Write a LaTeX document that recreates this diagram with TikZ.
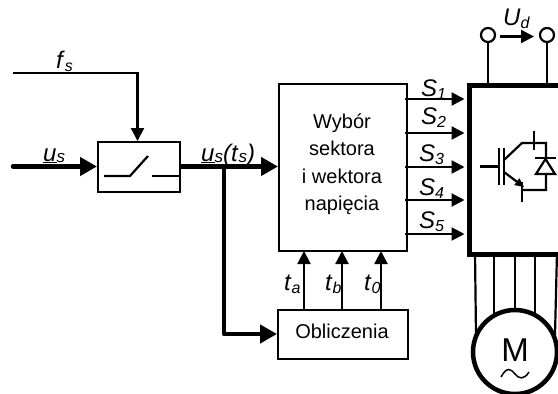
\documentclass[tikz,border=0pt]{standalone}
\usepackage{fontspec}
\setmainfont{Liberation Sans}
\usetikzlibrary{arrows.meta}
\newcommand{\lowsub}[2]{\textit{#1}\raisebox{-3pt}{\fontsize{16}{16}\selectfont\textit{#2}}}
\tikzset{
  x=1pt,y=-1pt,
  thinw/.style={line width=2.2pt},
  bx/.style={draw,line width=2.2pt,fill=white,inner sep=0pt,anchor=north west},
  sarrow/.style={line width=2.2pt,-{Triangle[length=13pt,width=13pt]}},
  lbl/.style={inner sep=0pt,font=\fontsize{20}{20}\selectfont},
  big/.style={font=\fontsize{24}{24}\selectfont},
  term/.style={circle,draw,line width=2.2pt,fill=white,minimum size=14pt,inner sep=0pt}
}
\begin{document}
\begin{tikzpicture}
\useasboundingbox (0,0) rectangle (558,394);
\clip (0,0) rectangle (558,394);
% boxes
\node[bx,minimum width=82pt,minimum height=50pt] (sw) at (97,141) {};
\node[bx,minimum width=128pt,minimum height=167pt] (sel) at (278,83) {};
\node[lbl,align=center,font=\fontsize{20}{27.5}\selectfont] (seltxt) at (342,164) {Wybór\\sektora\\i wektora\\napięcia};
\node[bx,minimum width=130pt,minimum height=49pt] (obl) at (277,309) {};
\node[lbl] (obltxt) at (342,331) {Obliczenia};
\node[draw,line width=4.5pt,fill=white,inner sep=0pt,anchor=north west,minimum width=120pt,minimum height=169pt] (inv) at (467,83) {};
% coordinates
\coordinate (fs0) at (13,73);
\coordinate (fs1) at (137.5,73);
\coordinate (fs2) at (137.5,141);
\coordinate (us0) at (13,166.5);
\coordinate (us1) at (97,166.5);
\coordinate (ut0) at (179,166.5);
\coordinate (ut1) at (278,166.5);
\coordinate (br) at (224,166.5);
\coordinate (br1) at (224,334);
\coordinate (br2) at (277,334);
% fs
\draw[sarrow,line join=miter] (fs0) -- (fs1) -- (fs2);
% us
\draw[line width=4.5pt,line cap=round,-{Triangle[length=17pt,width=18pt]}] (us0) -- (us1);
\draw[line width=4.5pt,-{Triangle[length=17pt,width=18pt]}] (ut0) -- (ut1);
\draw[line width=4.5pt,line join=round,-{Triangle[length=17pt,width=18pt]}] (br) -- (br1) -- (br2);
% switch symbol
\draw[thinw] (104,176) -- (130,176) -- (148,156);
\draw[thinw] (152,176) -- (179,176);
% labels
\node[lbl,big,anchor=base west] (lfs) at (56,68) {\lowsub{f}{s}};
\node[lbl,big,anchor=base west] (lus) at (43,161) {\underline{\textit{u}}\raisebox{-1pt}{\fontsize{17}{17}\selectfont\textit{s}}};
\node[lbl,big,anchor=base west] (lut) at (201,161) {\underline{\textit{u}}\raisebox{-1pt}{\fontsize{17}{17}\selectfont\textit{s}}\textit{(t}\raisebox{-1pt}{\fontsize{17}{17}\selectfont\textit{s}}\textit{)}};
% S arrows
\foreach \yy/\nm/\lx/\ly in {99/1/421/96,133/2/421/124,167/3/419/161,200/4/419/195,234/5/419/228}{
  \coordinate (sa\nm) at (405,\yy);
  \coordinate (sb\nm) at (464.5,\yy);
  \draw[sarrow] (sa\nm) -- (sb\nm);
  \node[lbl,big,anchor=base west] (ls\nm) at (\lx,\ly) {\lowsub{S}{\nm}};
}
% t arrows
\foreach \xx/\nm/\lx in {304/a/284,342/b/325,381/0/364}{
  \coordinate (ta\nm) at (\xx,309);
  \coordinate (tb\nm) at (\xx,251);
  \draw[sarrow] (ta\nm) -- (tb\nm);
  \node[lbl,big,anchor=base west] (lt\nm) at (\lx,290) {\lowsub{t}{\nm}};
}
% terminals
\node[term] (t1) at (488,35) {};
\node[term] (t2) at (547,35) {};
\coordinate (t1b) at (488,83);
\coordinate (t2b) at (547,83);
\draw[thinw] (t1) -- (t1b);
\draw[thinw] (t2) -- (t2b);
\coordinate (ud0) at (500,36.5);
\coordinate (ud1) at (534,36.5);
\draw[sarrow] (ud0) -- (ud1);
\node[lbl,big,anchor=base west] (lud) at (503,25) {\lowsub{U}{d}};
% IGBT
\draw[thinw] (480,166.5) -- (499,166.5);
\draw[line width=2.5pt] (499,148) -- (499,185);
\draw[line width=2.5pt] (504,148) -- (504,185);
\draw[thinw] (504,160) -- (522,143) -- (546,143) -- (546,190) -- (522,190);
\draw[thinw] (534,131) -- (534,150);
\draw[thinw,-{Triangle[length=9pt,width=8pt]}] (504,172) -- (524,187);
\draw[thinw] (522,182) -- (522,202);
\draw[thinw,fill=white] (545.5,159) -- (555,174) -- (536,174) -- cycle;
\draw[thinw] (535,158) -- (556,158);
% motor
\foreach \xa/\xb in {475/476,494/494,515/515,535/535,557/555}{
  \draw[thinw] (\xa,252) -- (\xb,335);
}
\node[circle,draw,line width=4.5pt,fill=white,minimum size=84pt,inner sep=0pt] (mot) at (515,352) {};
\node[inner sep=0pt,font=\fontsize{33}{33}\selectfont] (mm) at (515,350) {M};
\draw[line width=1.5pt] (501,377) .. controls (507,366) and (511,369) .. (515,374) .. controls (519,379) and (524,380) .. (529,372);
\end{tikzpicture}
\end{document}
